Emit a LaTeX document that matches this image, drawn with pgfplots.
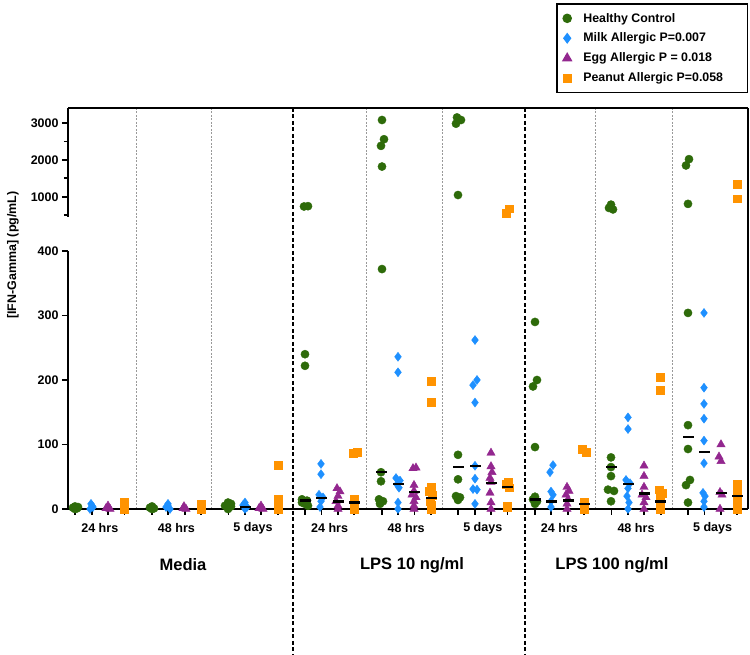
\documentclass[border=0pt]{standalone}
\usepackage{fontspec}
\setmainfont{Liberation Sans}
\usepackage{pgfplots}
\pgfplotsset{compat=1.18}
\usepackage{pgfplotstable}

\definecolor{hc}{RGB}{46,107,10}
\definecolor{milk}{RGB}{30,144,255}
\definecolor{egg}{RGB}{147,39,143}
\definecolor{pea}{RGB}{255,147,0}

\pgfplotstableread{
x y
73 2
77 1
75 4
75 0
78 3
150 2
154 1
152 4
152 0
228 10
225 5
231 4
228 0
231 8
304 740
308 748
305 240
305 222
302 15
307 13
305 8
302 10
308 5
382 3080
384 2560
381 2380
382 1820
382 372
381 57
381 43
379 15
383 12
380 8
457 3150
461 3080
456 2980
458 1050
458 84
458 46
456 20
460 18
458 14
535 290
537 200
533 190
535 96
535 19
533 15
537 12
535 8
611 790
609 700
613 660
611 80
611 65
611 51
608 30
614 28
611 12
689 2020
686 1850
688 810
688 304
688 130
688 93
690 45
686 37
688 10
}\hcdata

\pgfplotstableread{
x y
91 8
93 3
90 0
92 5
168 8
166 3
170 0
168 5
245 10
243 6
247 3
245 0
321 70
321 54
319 22
323 18
321 12
320 3
398 236
398 212
396 48
400 44
397 38
399 33
398 10
398 0
475 262
477 200
473 192
475 165
475 67
475 47
473 31
477 30
475 8
553 68
550 57
551 27
553 22
551 12
551 3
628 142
628 124
626 45
630 40
628 32
627 20
629 10
628 0
704 304
704 188
704 163
704 140
704 106
704 71
703 25
705 20
704 12
704 3
}\milkdata

\pgfplotstableread{
x y
108 5
106 1
110 0
184 4
186 0
183 1
261 5
259 1
263 0
337 32
340 27
338 20
336 12
338 5
338 0
413 63
416 64
414 37
414 28
412 22
416 18
414 12
414 5
414 0
491 87
491 66
492 57
490 48
491 42
490 25
491 10
491 0
567 34
569 28
566 22
568 15
567 8
567 0
644 67
644 51
644 34
642 22
646 18
644 10
644 0
721 100
719 81
721 74
720 26
722 22
720 0
}\eggdata

\pgfplotstableread{
x y
124 10
124 5
124 0
201 8
201 3
201 0
278 68
278 15
278 5
278 0
353 86
357 88
354 15
354 10
354 5
354 0
431 198
431 166
431 34
429 28
432 22
430 12
431 6
431 0
509 680
506 560
508 42
506 38
509 33
507 5
507 2
582 93
586 88
584 10
584 6
584 3
584 0
660 204
660 184
659 30
662 25
660 20
660 12
660 5
660 0
737 1350
737 950
737 38
737 30
737 22
737 12
737 5
737 0
}\peadata

\pgfplotstableread{
x y
245 3
305 13
321 17
338 12
354 10
381 57
398 39
414 26
431 17
458 65
475 67
491 40
507 34
535 15
551 12
568 13
584 8
611 65
628 39
644 24
660 12
688 112
704 88
721 25
737 20
}\meddata

\pgfplotsset{
  base/.style={
    scale only axis, width=680bp, xmin=68, xmax=748,
    axis line style={line width=2.2bp, black},
    tick style={line width=1.8bp, black},
    major tick length=6bp, minor tick length=4bp,
    tick align=outside, clip=false,
    yticklabel style={font=\bfseries\fontsize{12.5}{15}\selectfont},
    /pgf/number format/assume math mode=true,
    /pgf/number format/1000 sep={},
  },
  legend image code/.code={\draw[#1] plot coordinates {(0bp,0bp)};},
  hcs/.style={only marks, mark=*, mark size=4.1bp, color=hc},
  milks/.style={only marks, mark=diamond*, mark size=4.5bp, color=milk},
  eggs/.style={only marks, mark=triangle*, mark size=4.8bp, color=egg},
  peas/.style={only marks, mark=square*, mark size=3.9bp, color=pea},
  meds/.style={only marks, mark=-, mark size=5.5bp, color=black, mark options={line width=2.5bp}},
}

\begin{document}
\begin{tikzpicture}
\useasboundingbox (0,0) rectangle (750bp,655bp);
% separators
\foreach \xx in {136,211,366,442,595,672}
  \draw[gray!80, line width=1bp, dash pattern=on 2bp off 1.5bp] (\xx bp,547bp) -- (\xx bp,146bp);
\foreach \xx in {293,525}
  \draw[black, line width=1.3bp, dash pattern=on 4bp off 2.5bp] (\xx bp,547bp) -- (\xx bp,0bp);
\draw[line width=2.2bp] (748bp,547bp) -- (748bp,146bp);

\begin{axis}[base, at={(68bp,146bp)}, anchor=south west, height=258bp,
  ymin=0, ymax=400, ytick={0,100,200,300,400},
  axis y line*=left, axis x line*=bottom,
  xtick={75.2,91.6,108,124.4,151.8,168.2,184.6,201,228.4,244.8,261.2,277.6,305,321.4,337.8,354.2,381.6,398,414.4,430.8,458.2,474.6,491,507.4,534.8,551.2,567.6,584,611.4,627.8,644.2,660.6,688,704.4,720.8,737.2},
  xticklabel=\empty,
  restrict y to domain=-10:420,
  legend style={at={(1,1.6124)}, anchor=south east, draw=black, line width=1.3bp,
    font=\bfseries\fontsize{12.4}{14.9}\selectfont, cells={anchor=west},
    row sep=5.5bp, inner xsep=6bp, inner ysep=7bp,
    /tikz/every odd column/.append style={column sep=10bp}},
]
\addplot[hcs] table {\hcdata};
\addlegendentry{\makebox[156bp][l]{Healthy Control}}
\addplot[milks] table {\milkdata};
\addlegendentry{\makebox[156bp][l]{Milk Allergic P=0.007}}
\addplot[eggs] table {\eggdata};
\addlegendentry{\makebox[156bp][l]{Egg Allergic P = 0.018}}
\addplot[peas] table {\peadata};
\addlegendentry{\makebox[156bp][l]{Peanut Allergic P=0.058}}
\addplot[meds, forget plot] table {\meddata};
\end{axis}

\begin{axis}[base, at={(68bp,438bp)}, anchor=south west, height=109bp,
  ymin=455, ymax=3405, ytick={1000,2000,3000}, minor ytick={500,1500,2500},
  axis y line*=left, axis x line*=top, xtick=\empty,
  restrict y to domain=440:4000,
]
\addplot[hcs] table {\hcdata};
\addplot[milks] table {\milkdata};
\addplot[eggs] table {\eggdata};
\addplot[peas] table {\peadata};
\addplot[meds] table {\meddata};
\end{axis}

% x labels
\foreach \cx/\lab in {99.8/24 hrs,176.4/48 hrs,253/5 days,329.6/24 hrs,406.2/48 hrs,482.8/5 days,559.4/24 hrs,636/48 hrs,712.6/5 days}
  \node[font=\bfseries\fontsize{12.6}{15}\selectfont] at (\cx bp,127bp) {\lab};
\node[font=\bfseries\fontsize{16.6}{20}\selectfont] at (183bp,90bp) {Media};
\node[font=\bfseries\fontsize{16.6}{20}\selectfont] at (412bp,90bp) {LPS 10 ng/ml};
\node[font=\bfseries\fontsize{16.6}{20}\selectfont] at (612bp,90bp) {LPS 100 ng/ml};
\node[rotate=90, font=\bfseries\fontsize{12.5}{15}\selectfont] at (13bp,400bp) {[IFN-Gamma] (pg/mL)};
\end{tikzpicture}
\end{document}
